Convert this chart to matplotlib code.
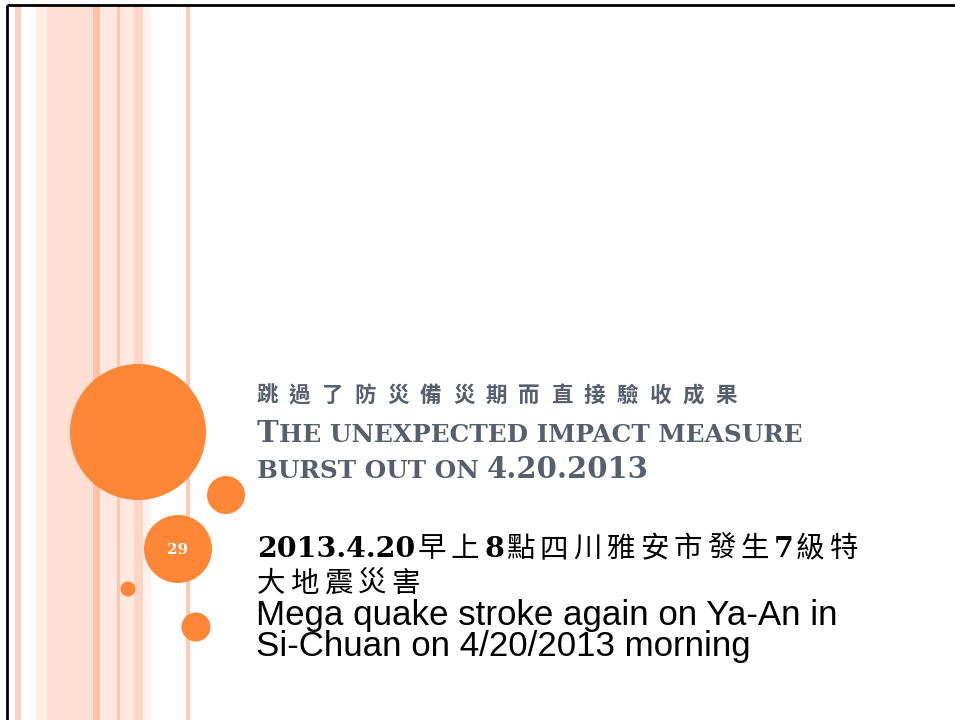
import matplotlib
matplotlib.use('Agg')
import matplotlib.pyplot as plt
from matplotlib.patches import Circle, Rectangle

W, H = 955, 720

# textos de la diapositiva
titulo_cjk = '跳過了防災備災期而直接驗收成果'
titulo_l1 = [('T', 'grande'), ('HE UNEXPECTED IMPACT MEASURE', 'chica')]
titulo_l2 = [('BURST OUT ON ', 'chica'), ('4.20.2013', 'grande')]
cuerpo_cjk = ['2013.4.20早上8點四川雅安市發生7級特', '大地震災害']
cuerpo_en = ['Mega quake stroke again on Ya-An in', 'Si-Chuan on 4/20/2013 morning']
numero = '29'

# franjas del margen izquierdo (x0, x1, color)
franjas = [
    (15, 21, '#fdcfbe'),
    (36, 47, '#ffede6'),
    (47, 93, '#fedfd2'),
    (93, 100, '#fec0a7'),
    (100, 117, '#ffe9e1'),
    (117, 120, '#fec4ad'),
    (120, 134, '#ffe8df'),
    (134, 143, '#fed5c6'),
    (143, 151, '#fff1eb'),
    (186, 190, '#fec8b2'),
]
# circulos (cx, cy, r)
circulos = [(138, 432, 68), (226, 495, 19), (178, 549, 34), (128, 589, 7.5), (196, 627, 14.5)]

naranja = '#fe8637'
gris = '#575f6d'
PX = 100 / 72  # pixeles por punto
SERIF = 'DejaVu Serif'
CJK = 'Noto Sans CJK TC'

fig = plt.figure(figsize=(9.55, 7.2), dpi=100)
ax = fig.add_axes([0, 0, 1, 1])
ax.set_xlim(0, W)
ax.set_ylim(H, 0)
ax.axis('off')
rend = fig.canvas.get_renderer()

for x0, x1, c in franjas:
    ax.add_patch(Rectangle((x0, 5), x1 - x0, H - 5, color=c, lw=0, zorder=1))

for cx, cy, r in circulos:
    ax.add_patch(Circle((cx, cy), r, color=naranja, lw=0, zorder=2))

ax.text(178, 550, numero, color='white', fontsize=11, fontweight='bold',
        family=SERIF, ha='center', va='center', zorder=3)

# borde negro
ax.plot([7, W], [5, 5], color='black', lw=2, solid_capstyle='butt', zorder=5)
ax.plot([7, 7], [5, H], color='black', lw=2, solid_capstyle='butt', zorder=5)


def medir(s, size, family, weight='normal'):
    # ancho en pixeles, los espacios finales cuentan aparte
    n = len(s) - len(s.rstrip())
    t = ax.text(0, 0, s.rstrip(), fontsize=size, family=family, fontweight=weight)
    w = t.get_window_extent(rend).width
    t.remove()
    return w + n * 0.32 * size * PX


def es_cjk(c):
    return ord(c) > 0x2e80


def linea_mixta(x, y, texto, size, color, paso, peso='normal'):
    # texto latino en tiradas, caracteres CJK con avance fijo
    tramo = ''
    for c in texto + '\0':
        if c == '\0' or es_cjk(c):
            if tramo:
                ax.text(x, y, tramo, fontsize=size, family=SERIF, fontweight='bold',
                        color=color, va='baseline', zorder=4)
                x += medir(tramo, size, SERIF, 'bold') + 2
                tramo = ''
            if c != '\0':
                ax.text(x, y, c, fontsize=size, family=CJK, fontweight=peso,
                        color=color, va='baseline', zorder=4)
                x += paso
        else:
            tramo += c
    return x


def versalitas(x, y, partes, g, c, color, dibujar=True):
    for s, tipo in partes:
        size = g if tipo == 'grande' else c
        if dibujar:
            ax.text(x, y, s.rstrip(), fontsize=size, family=SERIF, fontweight='bold',
                    color=color, va='baseline', zorder=4)
        x += medir(s, size, SERIF, 'bold')
    return x


# titulo
linea_mixta(256, 402, titulo_cjk, 15.5, gris, 32.8, peso='bold')
ratio = 0.85
ancho = versalitas(0, 0, titulo_l1, 20, 20 * ratio, gris, dibujar=False)
g = 20 * 545 / ancho
versalitas(257, 442, titulo_l1, g, g * ratio, gris)
versalitas(257, 478, titulo_l2, g, g * ratio, gris)

# cuerpo
linea_mixta(257, 557, cuerpo_cjk[0], 20.5, 'black', 33.5)
linea_mixta(257, 592, cuerpo_cjk[1], 20.5, 'black', 33.5)

size_en = 20 * 579 / medir(cuerpo_en[0], 20, 'Liberation Sans')
for s, yb in zip(cuerpo_en, [625, 656]):
    ax.text(256, yb, s, fontsize=size_en, family='Liberation Sans', color='black',
            va='baseline', zorder=4)

fig.savefig('out.png', dpi=100)
